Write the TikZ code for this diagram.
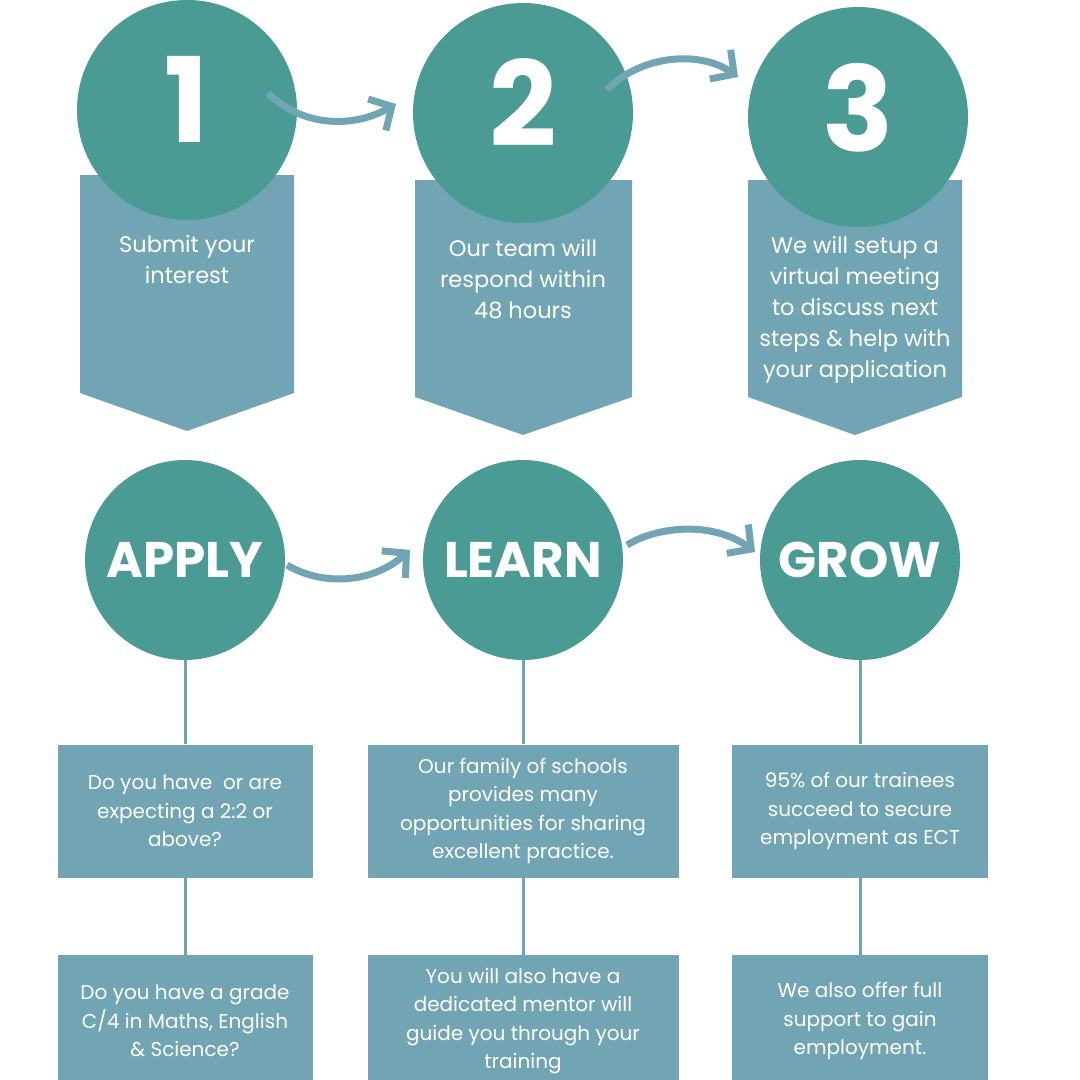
\documentclass[tikz,border=0pt]{standalone}
\usepackage{fontspec}
\setmainfont{Poppins}
\usetikzlibrary{arrows.meta}
\definecolor{tealc}{HTML}{4A9B94}
\definecolor{bluec}{HTML}{72A5B4}

\begin{document}
\begin{tikzpicture}
  [x=1pt,y=-1pt,
   big_style/.style={circle,fill=tealc,inner sep=0pt,text=white},
   digit_style/.style={text=white,font=\fontsize{118}{118}\selectfont\bfseries},
   banner_style/.style={fill=bluec},
   text_style/.style={text=white,align=center,font=\fontsize{22.5}{31}\selectfont},
   box_style/.style={fill=bluec,text=white,align=center,inner sep=0pt,font=\fontsize{20}{28.5}\selectfont},
   edge_style/.style={draw=bluec,line width=3pt},
   arrow_style/.style={draw=bluec,line width=7pt,-{Straight Barb[length=17pt,width=36pt]}}]
  \useasboundingbox[fill=white] (0,0) rectangle (1080,1080);
  % banners under the numbered circles
  \fill[banner_style] (80,175) -- (294,175) -- (294,393) -- (187,431) -- (80,393) -- cycle;
  \fill[banner_style] (415,180) -- (632,180) -- (632,397) -- (523,435) -- (415,397) -- cycle;
  \fill[banner_style] (748,180) -- (962,180) -- (962,397) -- (855,435) -- (748,397) -- cycle;
  \node[big_style,minimum size=220pt] (n1) at (187,110) {};
  \node[big_style,minimum size=220pt] (n2) at (523,113) {};
  \node[big_style,minimum size=220pt] (n3) at (858,117) {};
  \node[digit_style] (d1) at ([yshift=11pt]n1.center) {1};
  \node[digit_style] (d2) at ([yshift=11pt]n2.center) {2};
  \node[digit_style] (d3) at ([yshift=9pt]n3.center) {3};
  \node[text_style] (t1) at (187,260) {Submit your\\interest};
  \node[text_style] (t2) at (523,279) {Our team will\\respond within\\48 hours};
  \node[text_style] (t3) at (855,310) {We will setup a\\virtual meeting\\to discuss next\\steps \& help with\\your application};
  % curved arrows
  \coordinate (a1s) at (268,93);
  \coordinate (a1e) at (396,104);
  \coordinate (a2s) at (607,90);
  \coordinate (a2e) at (738,77);
  \draw[arrow_style] (a1s) .. controls (300,125) and (350,130) .. (a1e);
  \draw[arrow_style] (a2s) .. controls (640,55) and (700,50) .. (a2e);
  % second row
  \node[big_style,minimum size=200pt,font=\fontsize{50}{50}\selectfont\bfseries] (apply) at (185,560) {APPLY};
  \node[big_style,minimum size=200pt,font=\fontsize{50}{50}\selectfont\bfseries] (learn) at (523,560) {LEARN};
  \node[big_style,minimum size=200pt,font=\fontsize{50}{50}\selectfont\bfseries] (grow) at (860,560) {GROW};
  \coordinate (a3s) at (287,565);
  \coordinate (a3e) at (410,550);
  \coordinate (a4s) at (627,545);
  \coordinate (a4e) at (755,552);
  \draw[arrow_style] (a3s) .. controls (320,585) and (370,585) .. (a3e);
  \draw[arrow_style] (a4s) .. controls (660,525) and (715,522) .. (a4e);
  % boxes
  \node[box_style,minimum width=255pt,minimum height=133pt] (b1) at (185,811) {Do you have\ \ or are\\expecting a 2:2 or\\above?};
  \node[box_style,minimum width=311pt,minimum height=133pt] (b2) at (523,811) {Our family of schools\\provides many\\opportunities for sharing\\excellent practice.};
  \node[box_style,minimum width=256pt,minimum height=133pt] (b3) at (860,811) {95\% of our trainees\\succeed to secure\\employment as ECT};
  \node[box_style,minimum width=255pt,minimum height=132pt] (c1) at (185,1021) {Do you have a grade\\C/4 in Maths, English\\\& Science?};
  \node[box_style,minimum width=311pt,minimum height=132pt] (c2) at (523,1021) {You will also have a\\dedicated mentor will\\guide you through your\\training};
  \node[box_style,minimum width=256pt,minimum height=132pt] (c3) at (860,1021) {We also offer full\\support to gain\\employment.};
  \draw[edge_style] (apply) -- (b1);
  \draw[edge_style] (learn) -- (b2);
  \draw[edge_style] (grow) -- (b3);
  \draw[edge_style] (b1) -- (c1);
  \draw[edge_style] (b2) -- (c2);
  \draw[edge_style] (b3) -- (c3);
\end{tikzpicture}
\end{document}
